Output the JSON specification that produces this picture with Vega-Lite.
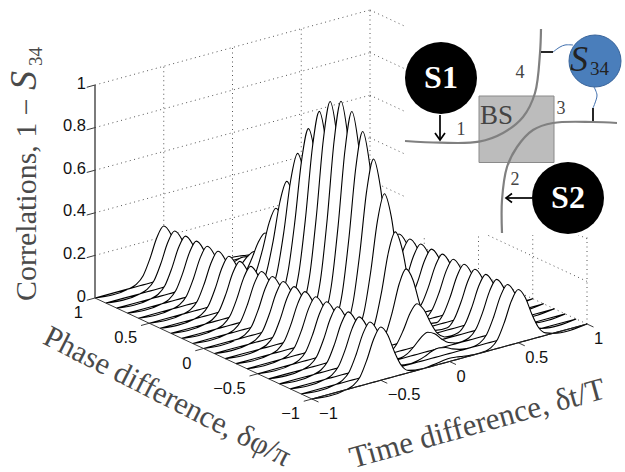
{"$schema":"https://vega.github.io/schema/vega-lite/v6.json","width":625,"height":472,"padding":0,"autosize":{"type":"none"},"background":"white","config":{"view":{"stroke":null}},
"datasets":{
"curves":[
{"p":1,"t":-1,"z":0},{"p":1,"t":-0.75,"z":0},{"p":1,"t":-0.7,"z":0.011},{"p":1,"t":-0.65,"z":0.043},{"p":1,"t":-0.6,"z":0.115},{"p":1,"t":-0.55,"z":0.205},{"p":1,"t":-0.5,"z":0.25},{"p":1,"t":-0.45,"z":0.205},{"p":1,"t":-0.4,"z":0.115},{"p":1,"t":-0.35,"z":0.043},{"p":1,"t":-0.3,"z":0.011},{"p":1,"t":-0.2,"z":0.001},{"p":1,"t":-0.15,"z":0.003},{"p":1,"t":-0.1,"z":0.007},{"p":1,"t":-0.05,"z":0.012},{"p":1,"t":0,"z":0.015},{"p":1,"t":0.05,"z":0.012},{"p":1,"t":0.1,"z":0.007},{"p":1,"t":0.15,"z":0.003},{"p":1,"t":0.2,"z":0.001},{"p":1,"t":0.3,"z":0.011},{"p":1,"t":0.35,"z":0.043},{"p":1,"t":0.4,"z":0.115},{"p":1,"t":0.45,"z":0.205},{"p":1,"t":0.5,"z":0.25},{"p":1,"t":0.55,"z":0.205},{"p":1,"t":0.6,"z":0.115},{"p":1,"t":0.65,"z":0.043},{"p":1,"t":0.7,"z":0.011},{"p":1,"t":0.75,"z":0},{"p":1,"t":1,"z":0},
{"p":0.9,"t":-1,"z":0},{"p":0.9,"t":-0.75,"z":0},{"p":0.9,"t":-0.7,"z":0.011},{"p":0.9,"t":-0.65,"z":0.043},{"p":0.9,"t":-0.6,"z":0.115},{"p":0.9,"t":-0.55,"z":0.205},{"p":0.9,"t":-0.5,"z":0.25},{"p":0.9,"t":-0.45,"z":0.205},{"p":0.9,"t":-0.4,"z":0.115},{"p":0.9,"t":-0.35,"z":0.043},{"p":0.9,"t":-0.3,"z":0.011},{"p":0.9,"t":-0.2,"z":0.002},{"p":0.9,"t":-0.15,"z":0.007},{"p":0.9,"t":-0.1,"z":0.018},{"p":0.9,"t":-0.05,"z":0.033},{"p":0.9,"t":0,"z":0.04},{"p":0.9,"t":0.05,"z":0.033},{"p":0.9,"t":0.1,"z":0.018},{"p":0.9,"t":0.15,"z":0.007},{"p":0.9,"t":0.2,"z":0.002},{"p":0.9,"t":0.3,"z":0.011},{"p":0.9,"t":0.35,"z":0.043},{"p":0.9,"t":0.4,"z":0.115},{"p":0.9,"t":0.45,"z":0.205},{"p":0.9,"t":0.5,"z":0.25},{"p":0.9,"t":0.55,"z":0.205},{"p":0.9,"t":0.6,"z":0.115},{"p":0.9,"t":0.65,"z":0.043},{"p":0.9,"t":0.7,"z":0.011},{"p":0.9,"t":0.75,"z":0},{"p":0.9,"t":1,"z":0},
{"p":0.8,"t":-1,"z":0},{"p":0.8,"t":-0.75,"z":0},{"p":0.8,"t":-0.7,"z":0.011},{"p":0.8,"t":-0.65,"z":0.043},{"p":0.8,"t":-0.6,"z":0.115},{"p":0.8,"t":-0.55,"z":0.205},{"p":0.8,"t":-0.5,"z":0.25},{"p":0.8,"t":-0.45,"z":0.205},{"p":0.8,"t":-0.4,"z":0.115},{"p":0.8,"t":-0.35,"z":0.043},{"p":0.8,"t":-0.3,"z":0.011},{"p":0.8,"t":-0.2,"z":0.004},{"p":0.8,"t":-0.15,"z":0.015},{"p":0.8,"t":-0.1,"z":0.041},{"p":0.8,"t":-0.05,"z":0.074},{"p":0.8,"t":0,"z":0.09},{"p":0.8,"t":0.05,"z":0.074},{"p":0.8,"t":0.1,"z":0.041},{"p":0.8,"t":0.15,"z":0.015},{"p":0.8,"t":0.2,"z":0.004},{"p":0.8,"t":0.3,"z":0.011},{"p":0.8,"t":0.35,"z":0.043},{"p":0.8,"t":0.4,"z":0.115},{"p":0.8,"t":0.45,"z":0.205},{"p":0.8,"t":0.5,"z":0.25},{"p":0.8,"t":0.55,"z":0.205},{"p":0.8,"t":0.6,"z":0.115},{"p":0.8,"t":0.65,"z":0.043},{"p":0.8,"t":0.7,"z":0.011},{"p":0.8,"t":0.75,"z":0},{"p":0.8,"t":1,"z":0},
{"p":0.7,"t":-1,"z":0},{"p":0.7,"t":-0.75,"z":0},{"p":0.7,"t":-0.7,"z":0.011},{"p":0.7,"t":-0.65,"z":0.043},{"p":0.7,"t":-0.6,"z":0.115},{"p":0.7,"t":-0.55,"z":0.205},{"p":0.7,"t":-0.5,"z":0.25},{"p":0.7,"t":-0.45,"z":0.205},{"p":0.7,"t":-0.4,"z":0.115},{"p":0.7,"t":-0.35,"z":0.043},{"p":0.7,"t":-0.3,"z":0.011},{"p":0.7,"t":-0.2,"z":0.009},{"p":0.7,"t":-0.15,"z":0.034},{"p":0.7,"t":-0.1,"z":0.092},{"p":0.7,"t":-0.05,"z":0.164},{"p":0.7,"t":0,"z":0.2},{"p":0.7,"t":0.05,"z":0.164},{"p":0.7,"t":0.1,"z":0.092},{"p":0.7,"t":0.15,"z":0.034},{"p":0.7,"t":0.2,"z":0.009},{"p":0.7,"t":0.3,"z":0.011},{"p":0.7,"t":0.35,"z":0.043},{"p":0.7,"t":0.4,"z":0.115},{"p":0.7,"t":0.45,"z":0.205},{"p":0.7,"t":0.5,"z":0.25},{"p":0.7,"t":0.55,"z":0.205},{"p":0.7,"t":0.6,"z":0.115},{"p":0.7,"t":0.65,"z":0.043},{"p":0.7,"t":0.7,"z":0.011},{"p":0.7,"t":0.75,"z":0},{"p":0.7,"t":1,"z":0},
{"p":0.6,"t":-1,"z":0},{"p":0.6,"t":-0.75,"z":0},{"p":0.6,"t":-0.7,"z":0.011},{"p":0.6,"t":-0.65,"z":0.043},{"p":0.6,"t":-0.6,"z":0.115},{"p":0.6,"t":-0.55,"z":0.205},{"p":0.6,"t":-0.5,"z":0.25},{"p":0.6,"t":-0.45,"z":0.205},{"p":0.6,"t":-0.4,"z":0.115},{"p":0.6,"t":-0.35,"z":0.043},{"p":0.6,"t":-0.3,"z":0.011},{"p":0.6,"t":-0.2,"z":0.015},{"p":0.6,"t":-0.15,"z":0.058},{"p":0.6,"t":-0.1,"z":0.156},{"p":0.6,"t":-0.05,"z":0.279},{"p":0.6,"t":0,"z":0.34},{"p":0.6,"t":0.05,"z":0.279},{"p":0.6,"t":0.1,"z":0.156},{"p":0.6,"t":0.15,"z":0.058},{"p":0.6,"t":0.2,"z":0.015},{"p":0.6,"t":0.3,"z":0.011},{"p":0.6,"t":0.35,"z":0.043},{"p":0.6,"t":0.4,"z":0.115},{"p":0.6,"t":0.45,"z":0.205},{"p":0.6,"t":0.5,"z":0.25},{"p":0.6,"t":0.55,"z":0.205},{"p":0.6,"t":0.6,"z":0.115},{"p":0.6,"t":0.65,"z":0.043},{"p":0.6,"t":0.7,"z":0.011},{"p":0.6,"t":0.75,"z":0},{"p":0.6,"t":1,"z":0},
{"p":0.5,"t":-1,"z":0},{"p":0.5,"t":-0.75,"z":0},{"p":0.5,"t":-0.7,"z":0.011},{"p":0.5,"t":-0.65,"z":0.043},{"p":0.5,"t":-0.6,"z":0.115},{"p":0.5,"t":-0.55,"z":0.205},{"p":0.5,"t":-0.5,"z":0.25},{"p":0.5,"t":-0.45,"z":0.205},{"p":0.5,"t":-0.4,"z":0.115},{"p":0.5,"t":-0.35,"z":0.043},{"p":0.5,"t":-0.3,"z":0.011},{"p":0.5,"t":-0.2,"z":0.022},{"p":0.5,"t":-0.15,"z":0.084},{"p":0.5,"t":-0.1,"z":0.224},{"p":0.5,"t":-0.05,"z":0.402},{"p":0.5,"t":0,"z":0.49},{"p":0.5,"t":0.05,"z":0.402},{"p":0.5,"t":0.1,"z":0.224},{"p":0.5,"t":0.15,"z":0.084},{"p":0.5,"t":0.2,"z":0.022},{"p":0.5,"t":0.3,"z":0.011},{"p":0.5,"t":0.35,"z":0.043},{"p":0.5,"t":0.4,"z":0.115},{"p":0.5,"t":0.45,"z":0.205},{"p":0.5,"t":0.5,"z":0.25},{"p":0.5,"t":0.55,"z":0.205},{"p":0.5,"t":0.6,"z":0.115},{"p":0.5,"t":0.65,"z":0.043},{"p":0.5,"t":0.7,"z":0.011},{"p":0.5,"t":0.75,"z":0},{"p":0.5,"t":1,"z":0},
{"p":0.4,"t":-1,"z":0},{"p":0.4,"t":-0.75,"z":0},{"p":0.4,"t":-0.7,"z":0.011},{"p":0.4,"t":-0.65,"z":0.043},{"p":0.4,"t":-0.6,"z":0.115},{"p":0.4,"t":-0.55,"z":0.205},{"p":0.4,"t":-0.5,"z":0.25},{"p":0.4,"t":-0.45,"z":0.205},{"p":0.4,"t":-0.4,"z":0.115},{"p":0.4,"t":-0.35,"z":0.043},{"p":0.4,"t":-0.3,"z":0.011},{"p":0.4,"t":-0.2,"z":0.028},{"p":0.4,"t":-0.15,"z":0.111},{"p":0.4,"t":-0.1,"z":0.295},{"p":0.4,"t":-0.05,"z":0.529},{"p":0.4,"t":0,"z":0.645},{"p":0.4,"t":0.05,"z":0.529},{"p":0.4,"t":0.1,"z":0.295},{"p":0.4,"t":0.15,"z":0.111},{"p":0.4,"t":0.2,"z":0.028},{"p":0.4,"t":0.3,"z":0.011},{"p":0.4,"t":0.35,"z":0.043},{"p":0.4,"t":0.4,"z":0.115},{"p":0.4,"t":0.45,"z":0.205},{"p":0.4,"t":0.5,"z":0.25},{"p":0.4,"t":0.55,"z":0.205},{"p":0.4,"t":0.6,"z":0.115},{"p":0.4,"t":0.65,"z":0.043},{"p":0.4,"t":0.7,"z":0.011},{"p":0.4,"t":0.75,"z":0},{"p":0.4,"t":1,"z":0},
{"p":0.3,"t":-1,"z":0},{"p":0.3,"t":-0.75,"z":0},{"p":0.3,"t":-0.7,"z":0.011},{"p":0.3,"t":-0.65,"z":0.043},{"p":0.3,"t":-0.6,"z":0.115},{"p":0.3,"t":-0.55,"z":0.205},{"p":0.3,"t":-0.5,"z":0.25},{"p":0.3,"t":-0.45,"z":0.205},{"p":0.3,"t":-0.4,"z":0.115},{"p":0.3,"t":-0.35,"z":0.043},{"p":0.3,"t":-0.3,"z":0.011},{"p":0.3,"t":-0.2,"z":0.035},{"p":0.3,"t":-0.15,"z":0.135},{"p":0.3,"t":-0.1,"z":0.36},{"p":0.3,"t":-0.05,"z":0.644},{"p":0.3,"t":0,"z":0.785},{"p":0.3,"t":0.05,"z":0.644},{"p":0.3,"t":0.1,"z":0.36},{"p":0.3,"t":0.15,"z":0.135},{"p":0.3,"t":0.2,"z":0.035},{"p":0.3,"t":0.3,"z":0.011},{"p":0.3,"t":0.35,"z":0.043},{"p":0.3,"t":0.4,"z":0.115},{"p":0.3,"t":0.45,"z":0.205},{"p":0.3,"t":0.5,"z":0.25},{"p":0.3,"t":0.55,"z":0.205},{"p":0.3,"t":0.6,"z":0.115},{"p":0.3,"t":0.65,"z":0.043},{"p":0.3,"t":0.7,"z":0.011},{"p":0.3,"t":0.75,"z":0},{"p":0.3,"t":1,"z":0},
{"p":0.2,"t":-1,"z":0},{"p":0.2,"t":-0.75,"z":0},{"p":0.2,"t":-0.7,"z":0.011},{"p":0.2,"t":-0.65,"z":0.043},{"p":0.2,"t":-0.6,"z":0.115},{"p":0.2,"t":-0.55,"z":0.205},{"p":0.2,"t":-0.5,"z":0.25},{"p":0.2,"t":-0.45,"z":0.205},{"p":0.2,"t":-0.4,"z":0.115},{"p":0.2,"t":-0.35,"z":0.043},{"p":0.2,"t":-0.3,"z":0.011},{"p":0.2,"t":-0.2,"z":0.039},{"p":0.2,"t":-0.15,"z":0.153},{"p":0.2,"t":-0.1,"z":0.408},{"p":0.2,"t":-0.05,"z":0.73},{"p":0.2,"t":0,"z":0.89},{"p":0.2,"t":0.05,"z":0.73},{"p":0.2,"t":0.1,"z":0.408},{"p":0.2,"t":0.15,"z":0.153},{"p":0.2,"t":0.2,"z":0.039},{"p":0.2,"t":0.3,"z":0.011},{"p":0.2,"t":0.35,"z":0.043},{"p":0.2,"t":0.4,"z":0.115},{"p":0.2,"t":0.45,"z":0.205},{"p":0.2,"t":0.5,"z":0.25},{"p":0.2,"t":0.55,"z":0.205},{"p":0.2,"t":0.6,"z":0.115},{"p":0.2,"t":0.65,"z":0.043},{"p":0.2,"t":0.7,"z":0.011},{"p":0.2,"t":0.75,"z":0},{"p":0.2,"t":1,"z":0},
{"p":0.1,"t":-1,"z":0},{"p":0.1,"t":-0.75,"z":0},{"p":0.1,"t":-0.7,"z":0.011},{"p":0.1,"t":-0.65,"z":0.043},{"p":0.1,"t":-0.6,"z":0.115},{"p":0.1,"t":-0.55,"z":0.205},{"p":0.1,"t":-0.5,"z":0.25},{"p":0.1,"t":-0.45,"z":0.205},{"p":0.1,"t":-0.4,"z":0.115},{"p":0.1,"t":-0.35,"z":0.043},{"p":0.1,"t":-0.3,"z":0.011},{"p":0.1,"t":-0.2,"z":0.042},{"p":0.1,"t":-0.15,"z":0.165},{"p":0.1,"t":-0.1,"z":0.44},{"p":0.1,"t":-0.05,"z":0.787},{"p":0.1,"t":0,"z":0.96},{"p":0.1,"t":0.05,"z":0.787},{"p":0.1,"t":0.1,"z":0.44},{"p":0.1,"t":0.15,"z":0.165},{"p":0.1,"t":0.2,"z":0.042},{"p":0.1,"t":0.3,"z":0.011},{"p":0.1,"t":0.35,"z":0.043},{"p":0.1,"t":0.4,"z":0.115},{"p":0.1,"t":0.45,"z":0.205},{"p":0.1,"t":0.5,"z":0.25},{"p":0.1,"t":0.55,"z":0.205},{"p":0.1,"t":0.6,"z":0.115},{"p":0.1,"t":0.65,"z":0.043},{"p":0.1,"t":0.7,"z":0.011},{"p":0.1,"t":0.75,"z":0},{"p":0.1,"t":1,"z":0},
{"p":0,"t":-1,"z":0},{"p":0,"t":-0.75,"z":0},{"p":0,"t":-0.7,"z":0.011},{"p":0,"t":-0.65,"z":0.043},{"p":0,"t":-0.6,"z":0.115},{"p":0,"t":-0.55,"z":0.205},{"p":0,"t":-0.5,"z":0.25},{"p":0,"t":-0.45,"z":0.205},{"p":0,"t":-0.4,"z":0.115},{"p":0,"t":-0.35,"z":0.043},{"p":0,"t":-0.3,"z":0.011},{"p":0,"t":-0.2,"z":0.043},{"p":0,"t":-0.15,"z":0.169},{"p":0,"t":-0.1,"z":0.451},{"p":0,"t":-0.05,"z":0.808},{"p":0,"t":0,"z":0.985},{"p":0,"t":0.05,"z":0.808},{"p":0,"t":0.1,"z":0.451},{"p":0,"t":0.15,"z":0.169},{"p":0,"t":0.2,"z":0.043},{"p":0,"t":0.3,"z":0.011},{"p":0,"t":0.35,"z":0.043},{"p":0,"t":0.4,"z":0.115},{"p":0,"t":0.45,"z":0.205},{"p":0,"t":0.5,"z":0.25},{"p":0,"t":0.55,"z":0.205},{"p":0,"t":0.6,"z":0.115},{"p":0,"t":0.65,"z":0.043},{"p":0,"t":0.7,"z":0.011},{"p":0,"t":0.75,"z":0},{"p":0,"t":1,"z":0},
{"p":-0.1,"t":-1,"z":0},{"p":-0.1,"t":-0.75,"z":0},{"p":-0.1,"t":-0.7,"z":0.011},{"p":-0.1,"t":-0.65,"z":0.043},{"p":-0.1,"t":-0.6,"z":0.115},{"p":-0.1,"t":-0.55,"z":0.205},{"p":-0.1,"t":-0.5,"z":0.25},{"p":-0.1,"t":-0.45,"z":0.205},{"p":-0.1,"t":-0.4,"z":0.115},{"p":-0.1,"t":-0.35,"z":0.043},{"p":-0.1,"t":-0.3,"z":0.011},{"p":-0.1,"t":-0.2,"z":0.042},{"p":-0.1,"t":-0.15,"z":0.165},{"p":-0.1,"t":-0.1,"z":0.44},{"p":-0.1,"t":-0.05,"z":0.787},{"p":-0.1,"t":0,"z":0.96},{"p":-0.1,"t":0.05,"z":0.787},{"p":-0.1,"t":0.1,"z":0.44},{"p":-0.1,"t":0.15,"z":0.165},{"p":-0.1,"t":0.2,"z":0.042},{"p":-0.1,"t":0.3,"z":0.011},{"p":-0.1,"t":0.35,"z":0.043},{"p":-0.1,"t":0.4,"z":0.115},{"p":-0.1,"t":0.45,"z":0.205},{"p":-0.1,"t":0.5,"z":0.25},{"p":-0.1,"t":0.55,"z":0.205},{"p":-0.1,"t":0.6,"z":0.115},{"p":-0.1,"t":0.65,"z":0.043},{"p":-0.1,"t":0.7,"z":0.011},{"p":-0.1,"t":0.75,"z":0},{"p":-0.1,"t":1,"z":0},
{"p":-0.2,"t":-1,"z":0},{"p":-0.2,"t":-0.75,"z":0},{"p":-0.2,"t":-0.7,"z":0.011},{"p":-0.2,"t":-0.65,"z":0.043},{"p":-0.2,"t":-0.6,"z":0.115},{"p":-0.2,"t":-0.55,"z":0.205},{"p":-0.2,"t":-0.5,"z":0.25},{"p":-0.2,"t":-0.45,"z":0.205},{"p":-0.2,"t":-0.4,"z":0.115},{"p":-0.2,"t":-0.35,"z":0.043},{"p":-0.2,"t":-0.3,"z":0.011},{"p":-0.2,"t":-0.2,"z":0.039},{"p":-0.2,"t":-0.15,"z":0.153},{"p":-0.2,"t":-0.1,"z":0.408},{"p":-0.2,"t":-0.05,"z":0.73},{"p":-0.2,"t":0,"z":0.89},{"p":-0.2,"t":0.05,"z":0.73},{"p":-0.2,"t":0.1,"z":0.408},{"p":-0.2,"t":0.15,"z":0.153},{"p":-0.2,"t":0.2,"z":0.039},{"p":-0.2,"t":0.3,"z":0.011},{"p":-0.2,"t":0.35,"z":0.043},{"p":-0.2,"t":0.4,"z":0.115},{"p":-0.2,"t":0.45,"z":0.205},{"p":-0.2,"t":0.5,"z":0.25},{"p":-0.2,"t":0.55,"z":0.205},{"p":-0.2,"t":0.6,"z":0.115},{"p":-0.2,"t":0.65,"z":0.043},{"p":-0.2,"t":0.7,"z":0.011},{"p":-0.2,"t":0.75,"z":0},{"p":-0.2,"t":1,"z":0},
{"p":-0.3,"t":-1,"z":0},{"p":-0.3,"t":-0.75,"z":0},{"p":-0.3,"t":-0.7,"z":0.011},{"p":-0.3,"t":-0.65,"z":0.043},{"p":-0.3,"t":-0.6,"z":0.115},{"p":-0.3,"t":-0.55,"z":0.205},{"p":-0.3,"t":-0.5,"z":0.25},{"p":-0.3,"t":-0.45,"z":0.205},{"p":-0.3,"t":-0.4,"z":0.115},{"p":-0.3,"t":-0.35,"z":0.043},{"p":-0.3,"t":-0.3,"z":0.011},{"p":-0.3,"t":-0.2,"z":0.035},{"p":-0.3,"t":-0.15,"z":0.135},{"p":-0.3,"t":-0.1,"z":0.36},{"p":-0.3,"t":-0.05,"z":0.644},{"p":-0.3,"t":0,"z":0.785},{"p":-0.3,"t":0.05,"z":0.644},{"p":-0.3,"t":0.1,"z":0.36},{"p":-0.3,"t":0.15,"z":0.135},{"p":-0.3,"t":0.2,"z":0.035},{"p":-0.3,"t":0.3,"z":0.011},{"p":-0.3,"t":0.35,"z":0.043},{"p":-0.3,"t":0.4,"z":0.115},{"p":-0.3,"t":0.45,"z":0.205},{"p":-0.3,"t":0.5,"z":0.25},{"p":-0.3,"t":0.55,"z":0.205},{"p":-0.3,"t":0.6,"z":0.115},{"p":-0.3,"t":0.65,"z":0.043},{"p":-0.3,"t":0.7,"z":0.011},{"p":-0.3,"t":0.75,"z":0},{"p":-0.3,"t":1,"z":0},
{"p":-0.4,"t":-1,"z":0},{"p":-0.4,"t":-0.75,"z":0},{"p":-0.4,"t":-0.7,"z":0.011},{"p":-0.4,"t":-0.65,"z":0.043},{"p":-0.4,"t":-0.6,"z":0.115},{"p":-0.4,"t":-0.55,"z":0.205},{"p":-0.4,"t":-0.5,"z":0.25},{"p":-0.4,"t":-0.45,"z":0.205},{"p":-0.4,"t":-0.4,"z":0.115},{"p":-0.4,"t":-0.35,"z":0.043},{"p":-0.4,"t":-0.3,"z":0.011},{"p":-0.4,"t":-0.2,"z":0.028},{"p":-0.4,"t":-0.15,"z":0.111},{"p":-0.4,"t":-0.1,"z":0.295},{"p":-0.4,"t":-0.05,"z":0.529},{"p":-0.4,"t":0,"z":0.645},{"p":-0.4,"t":0.05,"z":0.529},{"p":-0.4,"t":0.1,"z":0.295},{"p":-0.4,"t":0.15,"z":0.111},{"p":-0.4,"t":0.2,"z":0.028},{"p":-0.4,"t":0.3,"z":0.011},{"p":-0.4,"t":0.35,"z":0.043},{"p":-0.4,"t":0.4,"z":0.115},{"p":-0.4,"t":0.45,"z":0.205},{"p":-0.4,"t":0.5,"z":0.25},{"p":-0.4,"t":0.55,"z":0.205},{"p":-0.4,"t":0.6,"z":0.115},{"p":-0.4,"t":0.65,"z":0.043},{"p":-0.4,"t":0.7,"z":0.011},{"p":-0.4,"t":0.75,"z":0},{"p":-0.4,"t":1,"z":0},
{"p":-0.5,"t":-1,"z":0},{"p":-0.5,"t":-0.75,"z":0},{"p":-0.5,"t":-0.7,"z":0.011},{"p":-0.5,"t":-0.65,"z":0.043},{"p":-0.5,"t":-0.6,"z":0.115},{"p":-0.5,"t":-0.55,"z":0.205},{"p":-0.5,"t":-0.5,"z":0.25},{"p":-0.5,"t":-0.45,"z":0.205},{"p":-0.5,"t":-0.4,"z":0.115},{"p":-0.5,"t":-0.35,"z":0.043},{"p":-0.5,"t":-0.3,"z":0.011},{"p":-0.5,"t":-0.2,"z":0.022},{"p":-0.5,"t":-0.15,"z":0.084},{"p":-0.5,"t":-0.1,"z":0.224},{"p":-0.5,"t":-0.05,"z":0.402},{"p":-0.5,"t":0,"z":0.49},{"p":-0.5,"t":0.05,"z":0.402},{"p":-0.5,"t":0.1,"z":0.224},{"p":-0.5,"t":0.15,"z":0.084},{"p":-0.5,"t":0.2,"z":0.022},{"p":-0.5,"t":0.3,"z":0.011},{"p":-0.5,"t":0.35,"z":0.043},{"p":-0.5,"t":0.4,"z":0.115},{"p":-0.5,"t":0.45,"z":0.205},{"p":-0.5,"t":0.5,"z":0.25},{"p":-0.5,"t":0.55,"z":0.205},{"p":-0.5,"t":0.6,"z":0.115},{"p":-0.5,"t":0.65,"z":0.043},{"p":-0.5,"t":0.7,"z":0.011},{"p":-0.5,"t":0.75,"z":0},{"p":-0.5,"t":1,"z":0},
{"p":-0.6,"t":-1,"z":0},{"p":-0.6,"t":-0.75,"z":0},{"p":-0.6,"t":-0.7,"z":0.011},{"p":-0.6,"t":-0.65,"z":0.043},{"p":-0.6,"t":-0.6,"z":0.115},{"p":-0.6,"t":-0.55,"z":0.205},{"p":-0.6,"t":-0.5,"z":0.25},{"p":-0.6,"t":-0.45,"z":0.205},{"p":-0.6,"t":-0.4,"z":0.115},{"p":-0.6,"t":-0.35,"z":0.043},{"p":-0.6,"t":-0.3,"z":0.011},{"p":-0.6,"t":-0.2,"z":0.015},{"p":-0.6,"t":-0.15,"z":0.058},{"p":-0.6,"t":-0.1,"z":0.156},{"p":-0.6,"t":-0.05,"z":0.279},{"p":-0.6,"t":0,"z":0.34},{"p":-0.6,"t":0.05,"z":0.279},{"p":-0.6,"t":0.1,"z":0.156},{"p":-0.6,"t":0.15,"z":0.058},{"p":-0.6,"t":0.2,"z":0.015},{"p":-0.6,"t":0.3,"z":0.011},{"p":-0.6,"t":0.35,"z":0.043},{"p":-0.6,"t":0.4,"z":0.115},{"p":-0.6,"t":0.45,"z":0.205},{"p":-0.6,"t":0.5,"z":0.25},{"p":-0.6,"t":0.55,"z":0.205},{"p":-0.6,"t":0.6,"z":0.115},{"p":-0.6,"t":0.65,"z":0.043},{"p":-0.6,"t":0.7,"z":0.011},{"p":-0.6,"t":0.75,"z":0},{"p":-0.6,"t":1,"z":0},
{"p":-0.7,"t":-1,"z":0},{"p":-0.7,"t":-0.75,"z":0},{"p":-0.7,"t":-0.7,"z":0.011},{"p":-0.7,"t":-0.65,"z":0.043},{"p":-0.7,"t":-0.6,"z":0.115},{"p":-0.7,"t":-0.55,"z":0.205},{"p":-0.7,"t":-0.5,"z":0.25},{"p":-0.7,"t":-0.45,"z":0.205},{"p":-0.7,"t":-0.4,"z":0.115},{"p":-0.7,"t":-0.35,"z":0.043},{"p":-0.7,"t":-0.3,"z":0.011},{"p":-0.7,"t":-0.2,"z":0.009},{"p":-0.7,"t":-0.15,"z":0.034},{"p":-0.7,"t":-0.1,"z":0.092},{"p":-0.7,"t":-0.05,"z":0.164},{"p":-0.7,"t":0,"z":0.2},{"p":-0.7,"t":0.05,"z":0.164},{"p":-0.7,"t":0.1,"z":0.092},{"p":-0.7,"t":0.15,"z":0.034},{"p":-0.7,"t":0.2,"z":0.009},{"p":-0.7,"t":0.3,"z":0.011},{"p":-0.7,"t":0.35,"z":0.043},{"p":-0.7,"t":0.4,"z":0.115},{"p":-0.7,"t":0.45,"z":0.205},{"p":-0.7,"t":0.5,"z":0.25},{"p":-0.7,"t":0.55,"z":0.205},{"p":-0.7,"t":0.6,"z":0.115},{"p":-0.7,"t":0.65,"z":0.043},{"p":-0.7,"t":0.7,"z":0.011},{"p":-0.7,"t":0.75,"z":0},{"p":-0.7,"t":1,"z":0},
{"p":-0.8,"t":-1,"z":0},{"p":-0.8,"t":-0.75,"z":0},{"p":-0.8,"t":-0.7,"z":0.011},{"p":-0.8,"t":-0.65,"z":0.043},{"p":-0.8,"t":-0.6,"z":0.115},{"p":-0.8,"t":-0.55,"z":0.205},{"p":-0.8,"t":-0.5,"z":0.25},{"p":-0.8,"t":-0.45,"z":0.205},{"p":-0.8,"t":-0.4,"z":0.115},{"p":-0.8,"t":-0.35,"z":0.043},{"p":-0.8,"t":-0.3,"z":0.011},{"p":-0.8,"t":-0.2,"z":0.004},{"p":-0.8,"t":-0.15,"z":0.015},{"p":-0.8,"t":-0.1,"z":0.041},{"p":-0.8,"t":-0.05,"z":0.074},{"p":-0.8,"t":0,"z":0.09},{"p":-0.8,"t":0.05,"z":0.074},{"p":-0.8,"t":0.1,"z":0.041},{"p":-0.8,"t":0.15,"z":0.015},{"p":-0.8,"t":0.2,"z":0.004},{"p":-0.8,"t":0.3,"z":0.011},{"p":-0.8,"t":0.35,"z":0.043},{"p":-0.8,"t":0.4,"z":0.115},{"p":-0.8,"t":0.45,"z":0.205},{"p":-0.8,"t":0.5,"z":0.25},{"p":-0.8,"t":0.55,"z":0.205},{"p":-0.8,"t":0.6,"z":0.115},{"p":-0.8,"t":0.65,"z":0.043},{"p":-0.8,"t":0.7,"z":0.011},{"p":-0.8,"t":0.75,"z":0},{"p":-0.8,"t":1,"z":0},
{"p":-0.9,"t":-1,"z":0},{"p":-0.9,"t":-0.75,"z":0},{"p":-0.9,"t":-0.7,"z":0.011},{"p":-0.9,"t":-0.65,"z":0.043},{"p":-0.9,"t":-0.6,"z":0.115},{"p":-0.9,"t":-0.55,"z":0.205},{"p":-0.9,"t":-0.5,"z":0.25},{"p":-0.9,"t":-0.45,"z":0.205},{"p":-0.9,"t":-0.4,"z":0.115},{"p":-0.9,"t":-0.35,"z":0.043},{"p":-0.9,"t":-0.3,"z":0.011},{"p":-0.9,"t":-0.2,"z":0.002},{"p":-0.9,"t":-0.15,"z":0.007},{"p":-0.9,"t":-0.1,"z":0.018},{"p":-0.9,"t":-0.05,"z":0.033},{"p":-0.9,"t":0,"z":0.04},{"p":-0.9,"t":0.05,"z":0.033},{"p":-0.9,"t":0.1,"z":0.018},{"p":-0.9,"t":0.15,"z":0.007},{"p":-0.9,"t":0.2,"z":0.002},{"p":-0.9,"t":0.3,"z":0.011},{"p":-0.9,"t":0.35,"z":0.043},{"p":-0.9,"t":0.4,"z":0.115},{"p":-0.9,"t":0.45,"z":0.205},{"p":-0.9,"t":0.5,"z":0.25},{"p":-0.9,"t":0.55,"z":0.205},{"p":-0.9,"t":0.6,"z":0.115},{"p":-0.9,"t":0.65,"z":0.043},{"p":-0.9,"t":0.7,"z":0.011},{"p":-0.9,"t":0.75,"z":0},{"p":-0.9,"t":1,"z":0},
{"p":-1,"t":-1,"z":0},{"p":-1,"t":-0.75,"z":0},{"p":-1,"t":-0.7,"z":0.011},{"p":-1,"t":-0.65,"z":0.043},{"p":-1,"t":-0.6,"z":0.115},{"p":-1,"t":-0.55,"z":0.205},{"p":-1,"t":-0.5,"z":0.25},{"p":-1,"t":-0.45,"z":0.205},{"p":-1,"t":-0.4,"z":0.115},{"p":-1,"t":-0.35,"z":0.043},{"p":-1,"t":-0.3,"z":0.011},{"p":-1,"t":-0.2,"z":0.001},{"p":-1,"t":-0.15,"z":0.003},{"p":-1,"t":-0.1,"z":0.007},{"p":-1,"t":-0.05,"z":0.012},{"p":-1,"t":0,"z":0.015},{"p":-1,"t":0.05,"z":0.012},{"p":-1,"t":0.1,"z":0.007},{"p":-1,"t":0.15,"z":0.003},{"p":-1,"t":0.2,"z":0.001},{"p":-1,"t":0.3,"z":0.011},{"p":-1,"t":0.35,"z":0.043},{"p":-1,"t":0.4,"z":0.115},{"p":-1,"t":0.45,"z":0.205},{"p":-1,"t":0.5,"z":0.25},{"p":-1,"t":0.55,"z":0.205},{"p":-1,"t":0.6,"z":0.115},{"p":-1,"t":0.65,"z":0.043},{"p":-1,"t":0.7,"z":0.011},{"p":-1,"t":0.75,"z":0},{"p":-1,"t":1,"z":0}
],
"grid":[
{"t":-1,"p":1,"z":0.2,"t2":1,"p2":1,"z2":0.2},{"t":-1,"p":1,"z":0.4,"t2":1,"p2":1,"z2":0.4},{"t":-1,"p":1,"z":0.6,"t2":1,"p2":1,"z2":0.6},{"t":-1,"p":1,"z":0.8,"t2":1,"p2":1,"z2":0.8},{"t":-1,"p":1,"z":1,"t2":1,"p2":1,"z2":1},
{"t":1,"p":1,"z":0,"t2":1,"p2":-1,"z2":0},{"t":1,"p":1,"z":0.2,"t2":1,"p2":-1,"z2":0.2},{"t":1,"p":1,"z":0.4,"t2":1,"p2":-1,"z2":0.4},{"t":1,"p":1,"z":0.6,"t2":1,"p2":-1,"z2":0.6},{"t":1,"p":1,"z":0.8,"t2":1,"p2":-1,"z2":0.8},{"t":1,"p":1,"z":1,"t2":1,"p2":-1,"z2":1},
{"t":-0.5,"p":1,"z":0,"t2":-0.5,"p2":1,"z2":1},{"t":0,"p":1,"z":0,"t2":0,"p2":1,"z2":1},{"t":0.5,"p":1,"z":0,"t2":0.5,"p2":1,"z2":1},{"t":1,"p":1,"z":0,"t2":1,"p2":1,"z2":1},
{"t":1,"p":0.5,"z":0,"t2":1,"p2":0.5,"z2":1},{"t":1,"p":0,"z":0,"t2":1,"p2":0,"z2":1},{"t":1,"p":-0.5,"z":0,"t2":1,"p2":-0.5,"z2":1},{"t":1,"p":-1,"z":0,"t2":1,"p2":-1,"z2":1}
],
"axes":[
{"t":-1,"p":1,"z":0,"t2":-1,"p2":-1,"z2":0},{"t":-1,"p":-1,"z":0,"t2":1,"p2":-1,"z2":0},
{"t":-1,"p":1,"z":0,"t2":-1.06,"p2":1,"z2":0},{"t":-1,"p":1,"z":0.2,"t2":-1.06,"p2":1,"z2":0.2},{"t":-1,"p":1,"z":0.4,"t2":-1.06,"p2":1,"z2":0.4},{"t":-1,"p":1,"z":0.6,"t2":-1.06,"p2":1,"z2":0.6},{"t":-1,"p":1,"z":0.8,"t2":-1.06,"p2":1,"z2":0.8},{"t":-1,"p":1,"z":1,"t2":-1.06,"p2":1,"z2":1},
{"t":-1,"p":0.5,"z":0,"t2":-1.06,"p2":0.5,"z2":0},{"t":-1,"p":0,"z":0,"t2":-1.06,"p2":0,"z2":0},{"t":-1,"p":-0.5,"z":0,"t2":-1.06,"p2":-0.5,"z2":0},{"t":-1,"p":-1,"z":0,"t2":-1.06,"p2":-1,"z2":0},
{"t":-1,"p":-1,"z":0,"t2":-1,"p2":-1.06,"z2":0},{"t":-0.5,"p":-1,"z":0,"t2":-0.5,"p2":-1.06,"z2":0},{"t":0,"p":-1,"z":0,"t2":0,"p2":-1.06,"z2":0},{"t":0.5,"p":-1,"z":0,"t2":0.5,"p2":-1.06,"z2":0},{"t":1,"p":-1,"z":0,"t2":1,"p2":-1.06,"z2":0}
],
"zaxis":[{"t":-1,"p":1,"z":0,"t2":-1,"p2":1,"z2":1}],
"zlabels":[{"label":"0","t":-1,"p":1,"z":0},{"label":"0.2","t":-1,"p":1,"z":0.2},{"label":"0.4","t":-1,"p":1,"z":0.4},{"label":"0.6","t":-1,"p":1,"z":0.6},{"label":"0.8","t":-1,"p":1,"z":0.8},{"label":"1","t":-1,"p":1,"z":1}],
"plabels":[{"label":"1","t":-1,"p":1,"z":0},{"label":"0.5","t":-1,"p":0.5,"z":0},{"label":"0","t":-1,"p":0,"z":0},{"label":"−0.5","t":-1,"p":-0.5,"z":0},{"label":"−1","t":-1,"p":-1,"z":0}],
"tlabels":[{"label":"−1","t":-1,"p":-1,"z":0},{"label":"−0.5","t":-0.5,"p":-1,"z":0},{"label":"0","t":0,"p":-1,"z":0},{"label":"0.5","t":0.5,"p":-1,"z":0},{"label":"1","t":1,"p":-1,"z":0}],
"greys":[
{"s":"a","px":405,"py":141},{"s":"a","px":440,"py":142.7},{"s":"a","px":479,"py":141.7},{"s":"a","px":503,"py":133},{"s":"a","px":523,"py":117},{"s":"a","px":535,"py":93},{"s":"a","px":540,"py":53},{"s":"a","px":541,"py":29},
{"s":"b","px":617,"py":123},{"s":"b","px":593,"py":122},{"s":"b","px":553,"py":123},{"s":"b","px":533,"py":130},{"s":"b","px":517,"py":147},{"s":"b","px":507,"py":167},{"s":"b","px":502,"py":200},{"s":"b","px":502,"py":233}
],
"blues":[
{"s":"a","px":553,"py":52},{"s":"a","px":560,"py":47},{"s":"a","px":565,"py":45},{"s":"a","px":573,"py":45},
{"s":"b","px":594,"py":87},{"s":"b","px":597,"py":95},{"s":"b","px":595,"py":103},{"s":"b","px":593,"py":108}
],
"blacks":[
{"s":"a","px":541,"py":52},{"s":"a","px":553,"py":52},
{"s":"b","px":593,"py":108},{"s":"b","px":593,"py":121},
{"s":"c","px":440,"py":115},{"s":"c","px":440,"py":140},
{"s":"d","px":435,"py":133},{"s":"d","px":440,"py":140},{"s":"d","px":445,"py":133},
{"s":"e","px":532,"py":198},{"s":"e","px":506,"py":198},
{"s":"f","px":512,"py":193.5},{"s":"f","px":506,"py":198},{"s":"f","px":512,"py":202.5}
]
},
"encoding":{"x":{"field":"px","type":"quantitative","scale":{"domain":[0,625],"nice":false,"zero":false},"axis":null},"y":{"field":"py","type":"quantitative","scale":{"domain":[472,0],"nice":false,"zero":false},"axis":null}},
"layer":[
{"data":{"name":"grid"},"transform":[{"calculate":"95+137.5*(datum.t+1)+108.5*(1-datum.p)","as":"px"},{"calculate":"298-37.5*(datum.t+1)+50.5*(1-datum.p)-213*datum.z","as":"py"},{"calculate":"95+137.5*(datum.t2+1)+108.5*(1-datum.p2)","as":"qx"},{"calculate":"298-37.5*(datum.t2+1)+50.5*(1-datum.p2)-213*datum.z2","as":"qy"}],"mark":{"type":"rule","stroke":"#555555","strokeWidth":1,"strokeDash":[1,3.5]},"encoding":{"x2":{"field":"qx"},"y2":{"field":"qy"}}},
{"data":{"values":[{"px":405,"py":0,"qx":625,"qy":235}]},"mark":{"type":"rect","fill":"white"},"encoding":{"x2":{"field":"qx"},"y2":{"field":"qy"}}},
{"data":{"name":"curves"},"transform":[{"calculate":"95+137.5*(datum.t+1)+108.5*(1-datum.p)","as":"px"},{"calculate":"298-37.5*(datum.t+1)+50.5*(1-datum.p)-213*datum.z","as":"py"},{"calculate":"298-37.5*(datum.t+1)+50.5*(1-datum.p)","as":"qy"}],"mark":{"type":"area","interpolate":"monotone","fill":"white","stroke":"black","strokeWidth":1.1,"orient":"vertical"},"encoding":{"y2":{"field":"qy"},"detail":{"field":"p","type":"nominal"}}},
{"data":{"name":"axes"},"transform":[{"calculate":"95+137.5*(datum.t+1)+108.5*(1-datum.p)","as":"px"},{"calculate":"298-37.5*(datum.t+1)+50.5*(1-datum.p)-213*datum.z","as":"py"},{"calculate":"95+137.5*(datum.t2+1)+108.5*(1-datum.p2)","as":"qx"},{"calculate":"298-37.5*(datum.t2+1)+50.5*(1-datum.p2)-213*datum.z2","as":"qy"}],"mark":{"type":"rule","stroke":"#222222","strokeWidth":0.9},"encoding":{"x2":{"field":"qx"},"y2":{"field":"qy"}}},
{"data":{"name":"zaxis"},"transform":[{"calculate":"95+137.5*(datum.t+1)+108.5*(1-datum.p)","as":"px"},{"calculate":"298-37.5*(datum.t+1)+50.5*(1-datum.p)-213*datum.z","as":"py"},{"calculate":"95+137.5*(datum.t2+1)+108.5*(1-datum.p2)","as":"qx"},{"calculate":"298-37.5*(datum.t2+1)+50.5*(1-datum.p2)-213*datum.z2","as":"qy"}],"mark":{"type":"rule","stroke":"#444444","strokeWidth":1.4},"encoding":{"x2":{"field":"qx"},"y2":{"field":"qy"}}},
{"data":{"name":"zlabels"},"transform":[{"calculate":"95+137.5*(datum.t+1)+108.5*(1-datum.p)","as":"px"},{"calculate":"298-37.5*(datum.t+1)+50.5*(1-datum.p)-213*datum.z","as":"py"}],"mark":{"type":"text","font":"Liberation Sans","fontSize":16.5,"align":"right","baseline":"middle","dx":-9,"dy":-1.5,"fill":"#111111"},"encoding":{"text":{"field":"label"}}},
{"data":{"name":"plabels"},"transform":[{"calculate":"95+137.5*(datum.t+1)+108.5*(1-datum.p)","as":"px"},{"calculate":"298-37.5*(datum.t+1)+50.5*(1-datum.p)-213*datum.z","as":"py"}],"mark":{"type":"text","font":"Liberation Sans","fontSize":16.5,"align":"right","baseline":"middle","dx":-12,"dy":15,"fill":"#111111"},"encoding":{"text":{"field":"label"}}},
{"data":{"name":"tlabels"},"transform":[{"calculate":"95+137.5*(datum.t+1)+108.5*(1-datum.p)","as":"px"},{"calculate":"298-37.5*(datum.t+1)+50.5*(1-datum.p)-213*datum.z","as":"py"}],"mark":{"type":"text","font":"Liberation Sans","fontSize":16.5,"align":"left","baseline":"middle","dx":7,"dy":15,"fill":"#111111"},"encoding":{"text":{"field":"label"}}},
{"data":{"values":[{"label":"Correlations, 1 −","px":36,"py":301}]},"mark":{"type":"text","font":"Liberation Serif","fontSize":30,"angle":270,"align":"left","baseline":"alphabetic","fill":"#4a4a4a"},"encoding":{"text":{"field":"label"}}},
{"data":{"values":[{"label":"S","px":36,"py":90}]},"mark":{"type":"text","font":"Liberation Serif","fontStyle":"italic","fontSize":38,"angle":270,"align":"left","baseline":"alphabetic","fill":"#4a4a4a"},"encoding":{"text":{"field":"label"}}},
{"data":{"values":[{"label":"34","px":42,"py":66}]},"mark":{"type":"text","font":"Liberation Serif","fontSize":19,"angle":270,"align":"left","baseline":"alphabetic","fill":"#4a4a4a"},"encoding":{"text":{"field":"label"}}},
{"data":{"values":[{"label":"Phase difference, δφ/π","px":163,"py":405}]},"mark":{"type":"text","font":"Liberation Serif","fontSize":30.5,"angle":27,"align":"center","baseline":"alphabetic","fill":"#4a4a4a"},"encoding":{"text":{"field":"label"}}},
{"data":{"values":[{"label":"Time difference, δt/T","px":480,"py":433}]},"mark":{"type":"text","font":"Liberation Serif","fontSize":31,"angle":-15.5,"align":"center","baseline":"alphabetic","fill":"#4a4a4a"},"encoding":{"text":{"field":"label"}}},
{"data":{"values":[{"px":479,"py":96,"qx":554,"qy":162.5}]},"mark":{"type":"rect","fill":"#bcbcbc","stroke":"#8a8a8a","strokeWidth":1},"encoding":{"x2":{"field":"qx"},"y2":{"field":"qy"}}},
{"data":{"name":"greys"},"mark":{"type":"line","interpolate":"catmull-rom","stroke":"#808080","strokeWidth":2.2},"encoding":{"detail":{"field":"s","type":"nominal"},"order":{"value":null}}},
{"data":{"name":"blues"},"mark":{"type":"line","interpolate":"catmull-rom","stroke":"#3f6fae","strokeWidth":1},"encoding":{"detail":{"field":"s","type":"nominal"},"order":{"value":null}}},
{"data":{"name":"blacks"},"mark":{"type":"line","stroke":"black","strokeWidth":1.7},"encoding":{"detail":{"field":"s","type":"nominal"},"order":{"value":null}}},
{"data":{"values":[{"px":441,"py":78},{"px":568,"py":198}]},"mark":{"type":"point","shape":"circle","filled":true,"fill":"black","opacity":1,"size":5184}},
{"data":{"values":[{"px":595,"py":61}]},"mark":{"type":"point","shape":"circle","filled":true,"fill":"#4a7ebb","stroke":"#3a659b","strokeWidth":1,"opacity":1,"size":2704}},
{"data":{"values":[{"label":"S1","px":441,"py":88},{"label":"S2","px":568,"py":208}]},"mark":{"type":"text","font":"Liberation Serif","fontWeight":"bold","fontSize":32,"align":"center","baseline":"alphabetic","fill":"white"},"encoding":{"text":{"field":"label"}}},
{"data":{"values":[{"label":"BS","px":480,"py":124}]},"mark":{"type":"text","font":"Liberation Serif","fontSize":27,"align":"left","baseline":"alphabetic","fill":"#444444"},"encoding":{"text":{"field":"label"}}},
{"data":{"values":[{"label":"1","px":461,"py":135},{"label":"2","px":515,"py":185},{"label":"3","px":561,"py":114},{"label":"4","px":520,"py":78}]},"mark":{"type":"text","font":"Liberation Serif","fontSize":18,"align":"center","baseline":"alphabetic","fill":"#444444"},"encoding":{"text":{"field":"label"}}},
{"data":{"values":[{"label":"S","px":570,"py":71}]},"mark":{"type":"text","font":"Liberation Serif","fontStyle":"italic","fontSize":36,"align":"left","baseline":"alphabetic","fill":"#222222"},"encoding":{"text":{"field":"label"}}},
{"data":{"values":[{"label":"34","px":590,"py":75}]},"mark":{"type":"text","font":"Liberation Serif","fontSize":19,"align":"left","baseline":"alphabetic","fill":"#222222"},"encoding":{"text":{"field":"label"}}}
]}
